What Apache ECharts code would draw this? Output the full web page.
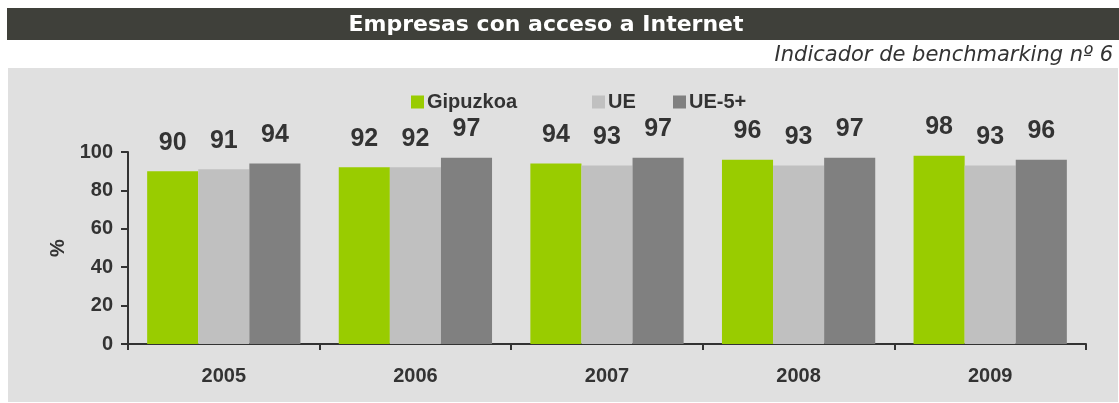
<!DOCTYPE html>
<html>
<head>
<meta charset="utf-8">
<script src="https://cdn.jsdelivr.net/npm/echarts@6/dist/echarts.min.js"></script>
<style>
html,body{margin:0;padding:0;background:#fff;}
#main{width:1119px;height:403px;}
</style>
</head>
<body>
<div id="main"></div>
<script>
var years = ['2005', '2006', '2007', '2008', '2009'];
var gipuzkoa = [90, 92, 94, 96, 98];
var ue = [91, 92, 93, 93, 93];
var ue5 = [94, 97, 97, 97, 96];
var yTicks = [0, 20, 40, 60, 80, 100];

var font = '"Liberation Sans", Arial, sans-serif';

function bar(name, data, color) {
	return {
		name: name,
		type: 'bar',
		data: data,
		barGap: '0%',
		barCategoryGap: '20%',
		itemStyle: { color: color },
		label: {
			show: true,
			position: 'top',
			distance: 16,
			color: '#333333',
			fontFamily: font,
			fontWeight: 'bold',
			fontSize: 25
		}
	};
}

function leg(name, left) {
	return {
		data: [name],
		left: left,
		top: 92,
		itemWidth: 13,
		itemHeight: 13,
		itemGap: 4,
		icon: 'rect',
		selectedMode: false,
		padding: 0,
		textStyle: { color: '#333333', fontFamily: font, fontWeight: 'bold', fontSize: 20, padding: [0, 0, 0, -2] }
	};
}

var myChart = echarts.init(document.getElementById('main'));
var option = {
	animation: false,
	backgroundColor: '#ffffff',
	graphic: [
		{ type: 'rect', shape: { x: 7, y: 8, width: 1112, height: 32 }, style: { fill: '#3f403a' }, z: 0 },
		{ type: 'rect', shape: { x: 8, y: 68, width: 1110, height: 334 }, style: { fill: '#e0e0e0' }, z: 0 },
		{ type: 'text', x: 546, y: 25, z: 10,
			style: { text: 'Empresas con acceso a Internet', fill: '#ffffff', font: 'bold 22px "DejaVu Sans", sans-serif', textAlign: 'center', textVerticalAlign: 'middle' } },
		{ type: 'text', x: 1113, y: 56, z: 10,
			style: { text: 'Indicador de benchmarking nº 6', fill: '#333333', font: 'italic 21px "DejaVu Sans", sans-serif', textAlign: 'right', textVerticalAlign: 'middle' } }
	],
	legend: [
		leg('Gipuzkoa', 411),
		leg('UE', 592),
		leg('UE-5+', 673)
	],
	grid: { left: 128, right: 33, top: 152, bottom: 59, containLabel: false },
	xAxis: {
		type: 'category',
		data: years,
		axisLine: { lineStyle: { color: '#333333', width: 2 } },
		axisTick: { show: true, length: 6, lineStyle: { color: '#333333', width: 2 } },
		axisLabel: { color: '#333333', fontFamily: font, fontWeight: 'bold', fontSize: 20, margin: 22 }
	},
	yAxis: {
		type: 'value',
		min: yTicks[0],
		max: yTicks[yTicks.length - 1],
		interval: 20,
		name: '%',
		nameLocation: 'middle',
		nameGap: 52,
		nameRotate: 90,
		nameTextStyle: { color: '#333333', fontFamily: font, fontWeight: 'bold', fontSize: 20 },
		axisLine: { show: true, lineStyle: { color: '#333333', width: 2 } },
		axisTick: { show: true, length: 7, lineStyle: { color: '#333333', width: 2 } },
		splitLine: { show: false },
		axisLabel: { color: '#333333', fontFamily: font, fontWeight: 'bold', fontSize: 20, margin: 15 }
	},
	series: [
		bar('Gipuzkoa', gipuzkoa, '#99cc00'),
		bar('UE', ue, '#c0c0c0'),
		bar('UE-5+', ue5, '#808080')
	]
};
myChart.setOption(option);
</script>
</body>
</html>
